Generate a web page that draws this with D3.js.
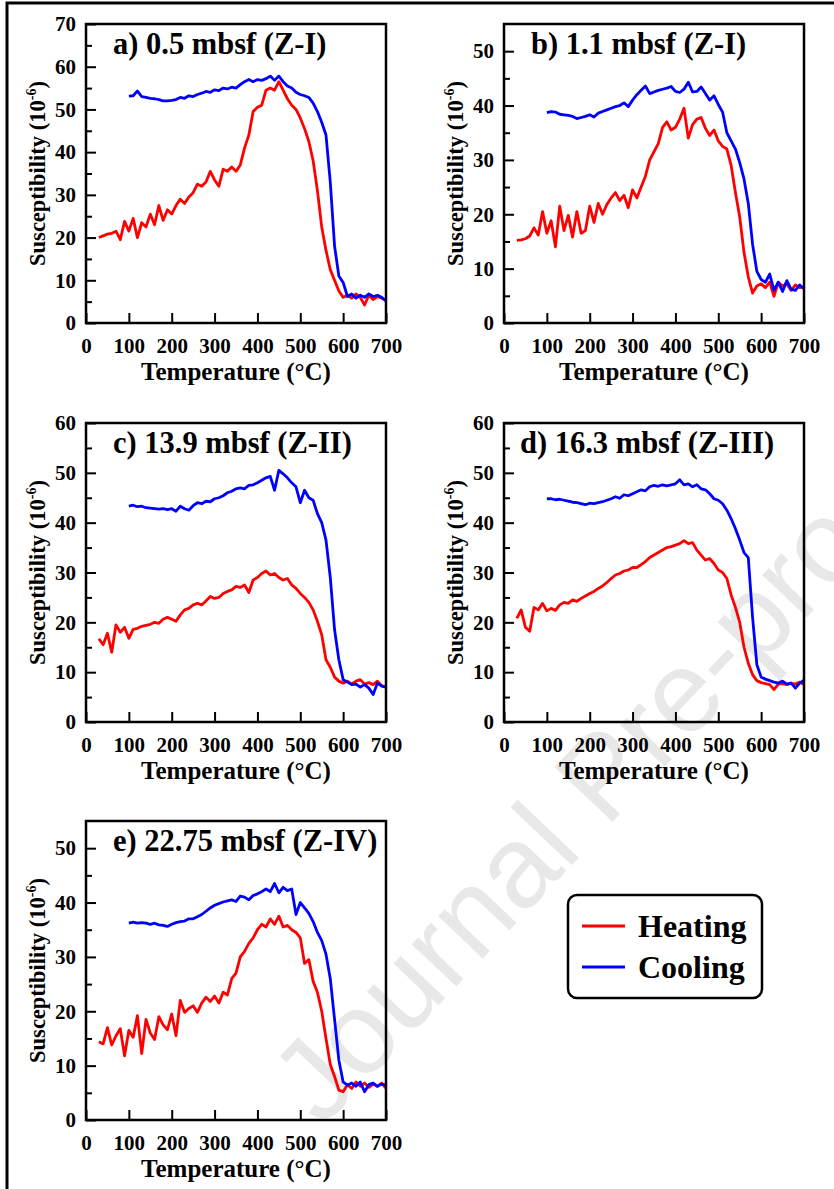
<!DOCTYPE html>
<html>
<head>
<meta charset="utf-8">
<script src="https://cdn.jsdelivr.net/npm/d3@7"></script>
<style>
  body { margin: 0; background: #fff; }
  svg { display: block; }
</style>
</head>
<body>
<div id="chart"></div>
<script>
// temperatures (°C) of the heating and cooling runs
const HEAT_T = [30, 40, 50, 60, 70, 80, 90, 100, 110, 120,
  130, 140, 150, 160, 170, 180, 190, 200, 210, 220,
  230, 240, 250, 260, 270, 280, 290, 300, 310, 320,
  330, 340, 350, 360, 370, 380, 390, 400, 410, 420,
  430, 440, 450, 460, 470, 480, 490, 500, 510, 520,
  530, 540, 550, 560, 570, 580, 590, 600, 610, 620,
  630, 640, 650, 660, 670, 680, 690, 700]
const COOL_T = [100, 110, 120, 130, 140, 150, 160, 170, 180, 190,
  200, 210, 220, 230, 240, 250, 260, 270, 280, 290,
  300, 310, 320, 330, 340, 350, 360, 370, 380, 390,
  400, 410, 420, 430, 440, 450, 460, 470, 480, 490,
  500, 510, 520, 530, 540, 550, 560, 570, 580, 590,
  600, 610, 620, 630, 640, 650, 660, 670, 680, 690, 700]

const X_TICKS = [0, 100, 200, 300, 400, 500, 600, 700]
const Y_TICKS = [0, 10, 20, 30, 40, 50, 60, 70]
const Y_MINOR = [5, 15, 25, 35, 45, 55, 65]

const TITLES = ['a) 0.5 mbsf (Z-I)', 'b) 1.1 mbsf (Z-I)', 'c) 13.9 mbsf (Z-II)',
  'd) 16.3 mbsf (Z-III)', 'e) 22.75 mbsf (Z-IV)']
const Y_MAX = [70, 55, 60, 60, 55]

// susceptibility (10^-6), a) 0.5 mbsf
const HEAT_A = [20.0, 20.4, 20.8, 21.0, 21.5, 19.5, 23.8, 21.5, 24.5, 20.0,
  23.5, 22.5, 25.5, 23.0, 27.5, 24.0, 26.5, 25.5, 27.5, 29.0,
  28.0, 29.5, 30.5, 32.5, 32.0, 33.0, 35.5, 33.5, 32.0, 36.0,
  35.5, 36.5, 35.5, 37.0, 41.0, 44.0, 49.5, 50.5, 51.0, 54.5,
  55.0, 54.5, 56.5, 54.5, 52.5, 51.0, 50.0, 48.0, 45.5, 42.5,
  38.0, 31.0, 22.5, 17.0, 12.5, 10.0, 7.5, 6.0, 6.5, 5.8,
  6.8, 6.0, 4.2, 6.5, 5.5, 6.2, 5.8, 5.3]
const COOL_A = [53.1, 53.2, 54.3, 53.0, 52.8, 52.6, 52.5, 52.3, 52.0, 52.0,
  52.1, 52.3, 52.8, 52.6, 53.2, 53.0, 53.5, 53.8, 54.2, 54.0,
  54.6, 54.4, 55.0, 54.8, 55.2, 55.0, 55.8, 56.5, 57.0, 56.5,
  57.0, 56.8, 57.2, 57.8, 56.8, 57.8, 56.5, 55.5, 55.0, 54.0,
  53.5, 53.2, 52.8, 51.5, 49.5, 47.0, 44.0, 33.0, 18.0, 11.0,
  9.5, 6.2, 6.8, 5.8, 6.5, 6.0, 6.8, 6.2, 6.5, 6.0, 5.2]

// b) 1.1 mbsf
const HEAT_B = [15.2, 15.3, 15.5, 16.0, 17.5, 16.2, 20.5, 16.5, 18.8, 14.0,
  21.5, 17.0, 19.8, 15.8, 20.5, 16.5, 17.0, 21.5, 18.5, 22.0,
  20.0, 21.8, 23.0, 24.0, 22.5, 23.5, 21.2, 24.5, 23.0, 25.0,
  27.0, 30.0, 31.5, 33.0, 36.0, 37.0, 35.5, 36.0, 37.5, 39.5,
  34.0, 36.5, 37.5, 37.8, 35.8, 34.5, 35.5, 33.5, 32.5, 32.0,
  29.0, 24.0, 19.5, 13.0, 8.5, 5.5, 6.8, 7.2, 6.5, 7.5,
  4.9, 7.5, 6.8, 7.2, 6.0, 7.0, 6.5, 6.6]
const COOL_B = [38.7, 38.9, 38.8, 38.4, 38.3, 38.2, 38.0, 37.6, 37.8, 38.0,
  38.3, 37.9, 38.6, 38.9, 39.2, 39.5, 39.8, 40.0, 40.5, 39.8,
  41.0, 42.0, 42.8, 43.6, 42.2, 42.5, 42.8, 43.0, 43.2, 43.5,
  42.6, 42.4, 43.0, 44.3, 42.5, 42.6, 43.4, 42.2, 41.0, 41.8,
  40.2, 38.8, 35.0, 33.5, 32.0, 29.5, 26.5, 22.0, 14.5, 9.5,
  8.0, 7.5, 9.0, 6.0, 7.5, 5.8, 7.8, 6.2, 6.0, 7.0, 6.3]

// c) 13.9 mbsf
const HEAT_C = [16.7, 15.5, 17.8, 14.0, 19.5, 18.0, 19.0, 16.8, 18.6, 18.8,
  19.2, 19.4, 19.6, 20.0, 19.8, 20.6, 21.0, 20.6, 20.2, 21.5,
  22.5, 22.8, 23.5, 23.8, 23.5, 24.3, 25.2, 24.8, 25.0, 25.8,
  26.2, 26.5, 27.2, 27.0, 27.5, 26.0, 28.5, 29.0, 29.8, 30.3,
  29.5, 29.8, 29.0, 28.5, 28.8, 27.5, 26.8, 25.8, 25.0, 24.0,
  22.5, 20.2, 17.5, 12.5, 11.0, 9.0, 8.2, 7.8, 8.2, 7.6,
  8.2, 8.5, 7.6, 7.9, 7.5, 8.2, 7.3, 7.0]
const COOL_C = [43.3, 43.5, 43.2, 43.3, 43.0, 42.9, 42.8, 42.7, 42.8, 42.6,
  42.8, 42.3, 43.3, 42.8, 42.5, 43.4, 44.0, 43.8, 44.3, 44.2,
  44.8, 45.0, 45.4, 46.0, 46.3, 46.8, 47.0, 46.8, 47.5, 47.6,
  48.0, 48.5, 49.0, 49.3, 46.5, 50.5, 49.8, 49.0, 48.0, 47.2,
  44.0, 46.5, 45.0, 44.5, 41.8, 40.0, 36.5, 29.0, 18.5, 12.5,
  8.5, 8.0, 7.5, 7.6, 7.0, 7.5, 6.8, 5.5, 7.8, 7.2, 7.0]

// d) 16.3 mbsf
const HEAT_D = [20.8, 22.5, 19.0, 18.2, 23.0, 22.5, 23.8, 22.3, 22.8, 22.4,
  23.5, 24.0, 23.8, 24.5, 24.2, 24.8, 25.3, 25.8, 26.2, 26.8,
  27.3, 28.0, 28.8, 29.5, 29.8, 30.3, 30.5, 31.0, 31.0, 31.6,
  32.2, 33.0, 33.5, 34.0, 34.5, 35.0, 35.2, 35.5, 35.8, 36.4,
  35.8, 36.0, 34.5, 33.5, 32.5, 32.8, 31.8, 30.5, 30.0, 28.8,
  25.5, 23.0, 20.0, 15.0, 11.8, 9.5, 8.3, 7.9, 7.7, 7.5,
  6.5, 7.6, 7.7, 7.5, 7.8, 7.6, 8.0, 7.5]
const COOL_D = [44.8, 44.8, 44.6, 44.7, 44.5, 44.3, 44.1, 44.0, 43.8, 43.6,
  43.9, 43.8, 44.0, 44.2, 44.5, 44.8, 45.2, 44.9, 45.6, 45.4,
  45.8, 46.2, 46.6, 46.4, 47.2, 47.5, 47.3, 47.6, 47.4, 47.6,
  47.8, 48.6, 47.6, 47.8, 47.2, 47.6, 46.8, 46.6, 45.8, 44.8,
  44.5, 43.8, 42.5, 40.8, 38.8, 36.5, 34.0, 33.0, 21.0, 11.5,
  9.0, 8.6, 8.3, 8.0, 7.8, 8.2, 7.6, 7.8, 6.8, 7.8, 8.4]

// e) 22.75 mbsf
const HEAT_E = [14.4, 14.0, 17.0, 13.8, 15.5, 16.8, 11.8, 16.5, 15.2, 19.2,
  12.2, 18.5, 16.0, 14.8, 19.0, 17.5, 16.6, 19.5, 15.5, 22.0,
  19.8, 20.5, 21.0, 19.8, 21.5, 22.6, 21.8, 22.8, 21.5, 23.5,
  23.0, 26.0, 27.0, 30.0, 31.0, 32.5, 33.5, 35.0, 36.0, 35.5,
  37.0, 36.0, 37.5, 35.5, 35.8, 35.0, 34.5, 33.5, 28.8, 29.5,
  25.5, 23.5, 20.0, 15.0, 10.2, 8.0, 5.5, 5.2, 6.5, 5.8,
  7.0, 6.2, 6.8, 6.0, 6.6, 6.2, 6.8, 5.8]
const COOL_E = [36.2, 36.4, 36.2, 36.3, 36.2, 36.0, 36.2, 35.9, 35.8, 35.6,
  36.0, 36.3, 36.5, 36.6, 37.0, 37.0, 37.4, 37.8, 38.4, 39.0,
  39.5, 39.8, 40.1, 40.3, 40.5, 40.2, 41.2, 41.0, 40.5, 41.3,
  41.6, 42.0, 42.5, 42.0, 43.5, 41.8, 42.8, 42.2, 42.5, 37.8,
  40.0, 39.0, 38.0, 36.5, 34.5, 33.0, 30.5, 26.0, 18.5, 11.0,
  7.0, 6.4, 6.8, 6.2, 7.0, 5.2, 6.5, 6.8, 6.2, 6.6, 6.4]

const HEATING = [HEAT_A, HEAT_B, HEAT_C, HEAT_D, HEAT_E]
const COOLING = [COOL_A, COOL_B, COOL_C, COOL_D, COOL_E]
const LEGEND = [{ label: 'Heating', color: '#ff0000' }, { label: 'Cooling', color: '#0000ff' }]

// ── layout ──────────────────────────────────────────────────────
const PW = 300, PH = 299
const PANEL_POS = [
  { x: 86, y: 24, titleX: 27 },
  { x: 504, y: 24, titleX: 27 },
  { x: 86, y: 423, titleX: 27 },
  { x: 504, y: 423, titleX: 16 },
  { x: 86, y: 821, titleX: 27 },
]
const SERIF = '"Liberation Serif", "Times New Roman", Times, serif'

const svg = d3.select('#chart').append('svg').attr('width', 834).attr('height', 1189)

// watermark behind everything
svg.append('text')
  .attr('transform', 'translate(322,1128) rotate(-46.5)')
  .attr('font-family', '"Liberation Sans", Arial, sans-serif')
  .attr('font-size', 116).attr('fill', '#e8e8e8')
  .text('Journal Pre-proof')

// outer frame (runs past the right / bottom edge)
svg.append('rect').attr('x', 7).attr('y', 3).attr('width', 900).attr('height', 1300)
  .attr('fill', 'none').attr('stroke', '#000').attr('stroke-width', 3)

TITLES.forEach((title, i) => {
  const pos = PANEL_POS[i]
  const yMax = Y_MAX[i]
  const g = svg.append('g').attr('transform', `translate(${pos.x},${pos.y})`)
    .attr('font-family', SERIF).attr('font-weight', 'bold')

  const x = d3.scaleLinear().domain([0, 700]).range([0, PW])
  const y = d3.scaleLinear().domain([0, yMax]).range([PH, 0])

  const line = d3.line().x(d => x(d[0])).y(d => y(d[1]))
  g.append('path').datum(d3.zip(HEAT_T, HEATING[i]))
    .attr('d', line).attr('fill', 'none').attr('stroke', LEGEND[0].color)
    .attr('stroke-width', 2.8).attr('stroke-linejoin', 'round')
  g.append('path').datum(d3.zip(COOL_T, COOLING[i]))
    .attr('d', line).attr('fill', 'none').attr('stroke', LEGEND[1].color)
    .attr('stroke-width', 2.8).attr('stroke-linejoin', 'round')

  // axes, ticks point inward
  const yAx = g.append('g').call(
    d3.axisLeft(y).tickValues(Y_TICKS.filter(v => v <= yMax))
      .tickSizeInner(-10).tickSizeOuter(0).tickPadding(10)
  )
  const yMin = g.append('g').call(
    d3.axisLeft(y).tickValues(Y_MINOR.filter(v => v < yMax))
      .tickSizeInner(-6).tickSizeOuter(0).tickFormat('')
  )
  const xAx = g.append('g').attr('transform', `translate(0,${PH})`).call(
    d3.axisBottom(x).tickValues(X_TICKS)
      .tickSizeInner(-10).tickSizeOuter(0).tickPadding(15)
  )
  ;[yAx, yMin, xAx].forEach(ax => {
    ax.select('.domain').remove()
    ax.selectAll('line').attr('stroke', '#000').attr('stroke-width', 2)
    ax.selectAll('text').attr('font-family', SERIF).attr('font-weight', 'bold')
      .attr('font-size', 21).attr('fill', '#000')
  })

  g.append('rect').attr('width', PW).attr('height', PH)
    .attr('fill', 'none').attr('stroke', '#000').attr('stroke-width', 2.5)

  g.append('text').attr('x', pos.titleX).attr('y', 30)
    .attr('font-size', 30.5).text(title)

  g.append('text').attr('x', PW / 2).attr('y', PH + 57)
    .attr('text-anchor', 'middle').attr('font-size', 25).text('Temperature (°C)')

  const yt = g.append('text').attr('transform', `translate(-41,${PH / 2}) rotate(-90)`)
    .attr('text-anchor', 'middle').attr('font-size', 22.5)
  yt.append('tspan').text('Susceptibility (10')
  yt.append('tspan').attr('font-size', 14).attr('dy', -9).text('-6')
  yt.append('tspan').attr('dy', 9).text(')')
})

// ── legend ──────────────────────────────────────────────────────
const lg = svg.append('g').attr('transform', 'translate(568,895)')
  .attr('font-family', SERIF).attr('font-weight', 'bold')
lg.append('rect').attr('width', 194).attr('height', 103).attr('rx', 9)
  .attr('fill', '#fff').attr('stroke', '#000').attr('stroke-width', 2.5)
LEGEND.forEach((d, i) => {
  lg.append('line').attr('x1', 14).attr('x2', 57).attr('y1', 31 + i * 41).attr('y2', 31 + i * 41)
    .attr('stroke', d.color).attr('stroke-width', 3)
  lg.append('text').attr('x', 70).attr('y', 42 + i * 41).attr('font-size', 32).text(d.label)
})
</script>
</body>
</html>
